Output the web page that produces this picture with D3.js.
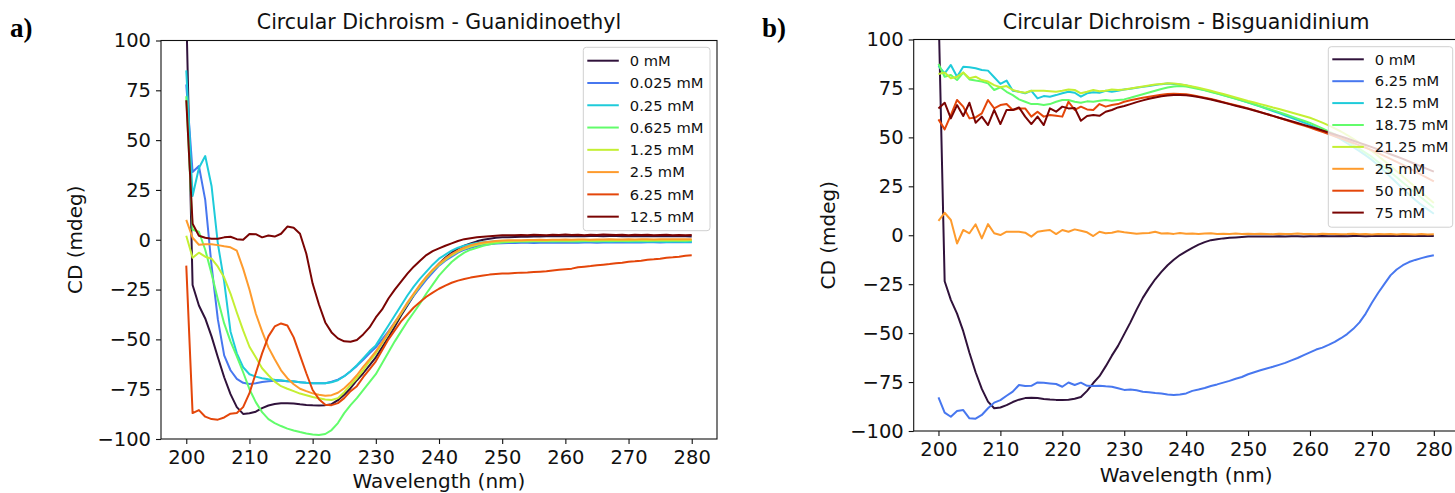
<!DOCTYPE html>
<html>
<head>
<meta charset="utf-8">
<script src="https://cdn.jsdelivr.net/npm/d3@7"></script>
<style>
    body { margin: 0; background: #fff; }
    svg { display: block; font-family: "DejaVu Sans", sans-serif; }
</style>
</head>
<body>
<div id="chart"></div>
<script>
// wavelength grid (nm), shared by every spectrum
const wavelength = [
    200, 201, 202, 203, 204, 205, 206, 207, 208, 209,
    210, 211, 212, 213, 214, 215, 216, 217, 218, 219,
    220, 221, 222, 223, 224, 225, 226, 227, 228, 229,
    230, 231, 232, 233, 234, 235, 236, 237, 238, 239,
    240, 241, 242, 243, 244, 245, 246, 247, 248, 249,
    250, 251, 252, 253, 254, 255, 256, 257, 258, 259,
    260, 261, 262, 263, 264, 265, 266, 267, 268, 269,
    270, 271, 272, 273, 274, 275, 276, 277, 278, 279,
    280
];

const xTicks = [200, 210, 220, 230, 240, 250, 260, 270, 280];
const yTicks = [100, 75, 50, 25, 0, -25, -50, -75, -100];

// a) Guanidinoethyl
const guaLabels = ["0 mM", "0.025 mM", "0.25 mM", "0.625 mM", "1.25 mM", "2.5 mM", "6.25 mM", "12.5 mM"];

const gua_0 = [
    115, -22.7, -33, -39.5, -48.5, -59, -69, -77.5, -84, -87.4,
    -87.1, -86.3, -84.5, -83.2, -82.4, -82.1, -82.1, -82.2, -82.6, -82.9,
    -83.1, -83.2, -83, -82.5, -80.5, -77.8, -74.5, -70.5, -67, -63,
    -59, -54, -49, -43.5, -38, -33, -28, -23.5, -19.5, -15.5,
    -12, -9, -6.5, -4.5, -3, -1.8, -0.8, 0, 0.5, 1,
    1.2, 1.3, 1.4, 1.5, 1.5, 1.6, 1.6, 1.7, 1.7, 1.8,
    1.8, 1.8, 1.9, 1.8, 1.9, 1.9, 1.8, 1.9, 1.9, 1.8,
    1.9, 1.8, 1.8, 1.9, 1.7, 1.8, 1.8, 1.7, 1.8, 1.7,
    1.6
];
const gua_0p025 = [
    78, 34, 37, 20, -13, -40, -58, -65.5, -69.8, -71.8,
    -72.4, -72, -71.4, -71, -70.8, -70.8, -71, -71.2, -71.5, -71.8,
    -72, -72, -72, -71.3, -70.2, -68.5, -66, -63.3, -60.3, -57,
    -54, -50, -46, -41.5, -37, -32.5, -28, -24, -20, -16.5,
    -13, -10.5, -8.5, -6.5, -5, -4, -3.2, -2.6, -2.2, -1.9,
    -1.7, -1.6, -1.6, -1.5, -1.5, -1.6, -1.5, -1.5, -1.4, -1.5,
    -1.5, -1.4, -1.5, -1.4, -1.4, -1.5, -1.4, -1.4, -1.3, -1.4,
    -1.4, -1.3, -1.4, -1.3, -1.3, -1.4, -1.3, -1.3, -1.2, -1.3,
    -1.2
];
const gua_0p25 = [
    85, 22, 36, 42, 27, -2, -21, -46, -57, -64,
    -67.5, -68.7, -69.5, -70, -70.3, -70.5, -71, -71, -71.5, -71.8,
    -72, -72, -72, -71.5, -70.5, -68.5, -66, -63, -59.5, -56,
    -53, -48, -43, -38, -33, -28, -23.5, -19.5, -16, -12.5,
    -9.5, -7.5, -5.5, -4, -3, -2.2, -1.6, -1.2, -1, -0.8,
    -0.7, -0.7, -0.8, -0.7, -0.8, -0.8, -0.7, -0.8, -0.9, -0.8,
    -0.8, -0.9, -0.8, -0.9, -0.9, -0.8, -0.9, -1, -0.9, -0.9,
    -1, -0.9, -1, -1, -0.9, -1, -1.1, -1, -1, -1.1,
    -1
];
const gua_0p625 = [
    72, 5, 4, -5, -17, -30, -42, -51, -58.5, -66.5,
    -75, -81.5, -86.5, -90, -92, -93.5, -94.8, -95.7, -96.5, -97.2,
    -97.7, -98, -97.5, -95.5, -92, -87, -83, -79.5, -75.5, -71.5,
    -67.5, -62, -56.5, -51, -46, -41, -36.5, -32, -27, -22.5,
    -18, -14.5, -11.2, -8.6, -6.5, -5, -4, -3, -2.3, -1.8,
    -1.4, -1.1, -1, -0.9, -0.9, -0.8, -0.8, -0.7, -0.8, -0.7,
    -0.7, -0.6, -0.7, -0.6, -0.6, -0.7, -0.6, -0.5, -0.6, -0.5,
    -0.6, -0.5, -0.5, -0.6, -0.5, -0.4, -0.5, -0.5, -0.4, -0.5,
    -0.4
];
const gua_1p25 = [
    2, -9, -6.5, -8.5, -9.5, -13.5, -19, -27, -36.5, -45.5,
    -53.7, -59, -64.5, -68, -71.2, -73.5, -74.8, -76, -77.2, -78,
    -78.9, -79.6, -80.2, -80.4, -79.5, -76.5, -73, -69.5, -65.5, -61,
    -57, -52, -47, -42, -37, -32, -27.5, -23, -19, -15.5,
    -12.5, -10, -7.8, -6, -4.5, -3.4, -2.5, -1.9, -1.4, -1,
    -0.8, -0.7, -0.6, -0.6, -0.5, -0.5, -0.4, -0.5, -0.4, -0.4,
    -0.3, -0.4, -0.3, -0.3, -0.4, -0.3, -0.2, -0.3, -0.3, -0.2,
    -0.3, -0.2, -0.2, -0.3, -0.2, -0.1, -0.2, -0.2, -0.1, -0.2,
    -0.1
];
const gua_2p5 = [
    10, 1, -2.5, -2.2, -2.3, -2.7, -3.3, -3.8, -5.5, -14.5,
    -25, -37, -46, -54, -60, -65.5, -69.5, -72.5, -74.8, -76,
    -77.1, -77.8, -78.3, -78, -76.8, -74.5, -71.5, -68, -63.8, -60,
    -56, -51.5, -46.5, -41.5, -36.5, -31.5, -27, -22.5, -18.5, -15,
    -12, -9.5, -7.2, -5.4, -4, -2.8, -2, -1.4, -1, -0.6,
    -0.4, -0.3, -0.2, -0.2, -0.1, -0.1, 0, -0.1, 0, 0,
    0.1, 0, 0.1, 0.1, 0, 0.1, 0.1, 0.2, 0.1, 0.1,
    0.2, 0.1, 0.2, 0.2, 0.1, 0.2, 0.2, 0.3, 0.2, 0.2,
    0.3
];
const gua_6p25 = [
    -13, -87, -85.5, -88.8, -90, -90.3, -89.2, -87.3, -87, -84,
    -77, -67, -57, -48.5, -43.5, -42, -43, -49, -58, -67,
    -75.4, -80, -82.8, -83, -82, -79.5, -76, -73.5, -69, -65,
    -61, -55.5, -50, -45.5, -41, -37.5, -34, -31.2, -28.6, -26.5,
    -24.6, -23, -21.6, -20.5, -19.7, -19, -18.4, -17.9, -17.5, -17.2,
    -17, -16.9, -16.7, -16.5, -16.4, -16.2, -16, -15.8, -15.4, -15.1,
    -14.8, -14.5, -13.8, -13.5, -13.2, -12.8, -12.5, -12.2, -11.8, -11.5,
    -11, -10.8, -10.5, -10, -9.8, -9.5, -9, -8.8, -8.5, -8,
    -7.8
];
const gua_12p5 = [
    70, 8, 2, 1, 0.5, 0.5, 1.2, 1.5, 0.3, 0,
    2.9, 2.8, 1.2, 2.1, 1.6, 3, 6.6, 6, 3, -7,
    -22, -32.5, -41.5, -46.5, -49.5, -51, -51.2, -50.3, -47.5, -44,
    -39, -35, -29.5, -25, -21, -17, -13.5, -10.5, -7.7, -5.7,
    -4.3, -3, -1.8, -0.6, 0.3, 0.8, 1.2, 1.5, 1.8, 2,
    2.2, 2.3, 2.2, 2.4, 2.3, 2.5, 2.4, 2.3, 2.5, 2.4,
    2.6, 2.4, 2.5, 2.3, 2.5, 2.4, 2.6, 2.5, 2.4, 2.5,
    2.3, 2.5, 2.4, 2.5, 2.3, 2.4, 2.5, 2.3, 2.4, 2.3,
    2.4
];

// b) Bisguanidinium
const bisLabels = ["0 mM", "6.25 mM", "12.5 mM", "18.75 mM", "21.25 mM", "25 mM", "50 mM", "75 mM"];

const bis_0 = [
    117, -23.5, -33, -40, -49, -60, -70, -78.5, -85, -88.4,
    -88, -86.8, -85.2, -84, -83.2, -83, -83.2, -83.6, -83.9, -84.1,
    -84.2, -84, -83.5, -82.6, -79.5, -75.5, -72, -67, -61.5, -56.5,
    -50.5, -44.5, -38, -32, -27, -22.5, -18.7, -15.3, -12.5, -10.1,
    -8.2, -6.4, -4.8, -3.5, -2.5, -2, -1.6, -1.3, -1.1, -0.9,
    -0.7, -0.7, -0.6, -0.6, -0.6, -0.5, -0.6, -0.5, -0.5, -0.6,
    -0.5, -0.5, -0.4, -0.5, -0.5, -0.4, -0.5, -0.4, -0.4, -0.5,
    -0.4, -0.4, -0.3, -0.4, -0.4, -0.3, -0.4, -0.3, -0.4, -0.3,
    -0.4
];
const bis_6p25 = [
    -82.8, -90.6, -92.7, -89.8, -89.3, -93.5, -93.7, -91.8, -88.4, -85.5,
    -84.2, -82, -79.9, -76.5, -77, -76.9, -75.2, -75.4, -75.7, -76,
    -77.4, -75.2, -76.5, -75.3, -76.9, -77, -76.9, -77.2, -77.4, -78.2,
    -79, -78.8, -79.2, -79.9, -80.2, -80.6, -80.9, -81.3, -81.6, -81.4,
    -80.8, -79.5, -78.8, -78, -77, -76.2, -75.3, -74.4, -73.3, -72.4,
    -71, -70, -69, -68.1, -67.2, -66.2, -65.2, -63.9, -62.7, -61.2,
    -59.8, -58.4, -57.4, -56, -54.5, -52.6, -50.5, -47.8, -44.5, -40,
    -34.5, -29.5, -25, -20.5, -17.5, -15.3, -13.7, -12.6, -11.7, -10.9,
    -10.2
];
const bis_12p5 = [
    86.5, 82.7, 87, 81, 86.1, 85.8, 85.3, 84.4, 84.1, 80.7,
    77.3, 79, 73.8, 73.3, 72.5, 73.8, 69.9, 71.1, 70.8, 71.6,
    72.5, 73.3, 72.8, 70.8, 72.5, 73, 72.8, 73.8, 73.3, 73.8,
    74.5, 74.8, 75.3, 75.8, 76.3, 76.8, 77.2, 77.5, 77.3, 77,
    76.5, 75.8, 75, 74.2, 73.4, 72.5, 71.6, 70.7, 69.8, 68.8,
    67.8, 66.8, 65.7, 64.6, 63.5, 62.4, 61.2, 60, 58.8, 57.6,
    56.4, 55, 53.6, 52.2, 50.7, 49, 47, 45, 43, 40.8,
    38.5, 35.8, 32.8, 29.8, 26.8, 23.8, 20.8, 18, 15.5, 13.2,
    11
];
const bis_18p75 = [
    87.5, 81, 81.9, 79.3, 83.1, 79.6, 79, 78.5, 77.6, 74.2,
    75.6, 73.3, 71.6, 69.4, 68.2, 67, 67, 66.5, 67, 68.2,
    69.1, 69.1, 68.2, 67.7, 68.4, 68.2, 68.7, 69.1, 68.7, 69.1,
    69.4, 70.2, 71.1, 72, 72.9, 73.8, 74.7, 75.5, 76, 76.2,
    76, 75.4, 74.7, 74, 73.2, 72.4, 71.5, 70.6, 69.7, 68.8,
    67.9, 66.9, 65.9, 64.9, 63.9, 62.9, 61.8, 60.7, 59.6, 58.5,
    57.4, 56, 54.6, 53.1, 51.6, 50, 48.1, 46.1, 44.1, 42.1,
    40, 37.4, 34.8, 32.2, 29.6, 27, 24.4, 21.8, 19.2, 16.6,
    14
];
const bis_21p25 = [
    82.4, 83.1, 80.2, 81, 83.1, 80.2, 81, 79.3, 78.5, 76.7,
    75.6, 76.2, 74.2, 73.3, 72.8, 73.8, 73.8, 73.8, 73.6, 73.3,
    73.8, 74.5, 74.2, 72.5, 73.3, 74.2, 73.6, 73.8, 74.5, 74.2,
    74.5, 75, 75.5, 76, 76.5, 77, 77.3, 77.6, 77.5, 77.1,
    76.6, 76, 75.3, 74.6, 73.8, 73, 72.2, 71.3, 70.4, 69.5,
    68.6, 67.8, 67, 66.2, 65.3, 64.5, 63.6, 62.7, 61.8, 60.9,
    60, 58.8, 57.5, 56.1, 54.6, 53, 51.2, 49.2, 47.2, 45.1,
    43, 40.5, 38, 35.4, 32.7, 30, 27.3, 24.6, 21.9, 19.2,
    16.5
];
const bis_25 = [
    7.4, 11.5, 7.8, -4.2, 2.7, 1, 5.6, -1.6, 5.7, 1,
    0.1, 1.8, 1.8, 1.8, 1.3, -0.7, 1.8, 2.3, 2.7, 0.6,
    2.7, 1.8, 3, 2.3, 1.5, -0.4, 1.8, 1, 1.3, 2,
    1.5, 1.2, 0.8, 1, 1.1, 1.8, 0.9, 1, 0.7, 1.1,
    0.8, 0.9, 0.6, 0.9, 1, 0.7, 0.8, 0.6, 0.9, 0.7,
    0.8, 0.6, 0.8, 0.7, 0.5, 0.8, 0.6, 0.7, 0.9, 0.6,
    0.7, 0.5, 0.8, 0.6, 0.7, 0.5, 0.6, 0.8, 0.5, 0.6,
    0.4, 0.7, 0.5, 0.6, 0.4, 0.6, 0.5, 0.4, 0.6, 0.4,
    0.5
];
const bis_50 = [
    59.2, 54.1, 61.4, 69.1, 65.7, 59.7, 60.2, 62.3, 69.1, 64.8,
    66.5, 67, 64, 64.8, 64.8, 60.6, 63.1, 60.6, 61.4, 61,
    60.6, 68.2, 64, 65.7, 64.3, 64, 67, 65.7, 66.5, 67,
    68.2, 69, 69.6, 70.2, 70.8, 71.3, 71.8, 72.2, 72.3, 72.2,
    72, 71.5, 70.9, 70.3, 69.6, 68.8, 68, 67.2, 66.4, 65.6,
    64.8, 63.9, 62.9, 61.9, 61, 60, 59, 58, 57, 56,
    55, 53.9, 52.8, 51.7, 50.6, 49.5, 48.3, 47.1, 45.9, 44.7,
    43.5, 42, 40.5, 39, 37.5, 36, 34.3, 32.6, 30.9, 29.2,
    27.5
];
const bis_75 = [
    64.8, 67.7, 59.7, 66.5, 60.9, 67.7, 57.5, 60.6, 56.3, 64,
    56.8, 64, 64, 65.3, 60.6, 56.8, 60.6, 56.3, 64.8, 63.1,
    65.7, 64.8, 65, 58.5, 60.9, 61.4, 61, 63.1, 64, 65.3,
    66, 67, 68, 68.9, 69.7, 70.4, 71, 71.4, 71.7, 71.7,
    71.5, 71.1, 70.6, 70, 69.3, 68.6, 67.8, 67, 66.2, 65.4,
    64.6, 63.7, 62.8, 61.9, 61, 60, 59.1, 58.2, 57.3, 56.4,
    55.5, 54.5, 53.5, 52.5, 51.5, 50.5, 49.4, 48.3, 47.2, 46.1,
    45, 43.8, 42.6, 41.4, 40.2, 39, 37.7, 36.4, 35.1, 33.8,
    32.5
];

// turbo colours, one per concentration
const seriesColors = ["#30123b", "#4777ef", "#1ecbda", "#62fc6b", "#c4ef33", "#fe9b2d", "#e4460a", "#7a0403"];


class CDPanel {

    constructor(svg, opts) {
        this.svg = svg;
        this.opts = opts;

        this.tickFontSize = 19.5;
        this.labelFontSize = 20;
        this.titleFontSize = 20.5;
        this.legendFontSize = 14.7;

        this.draw();
    }

    draw() {
        const o = this.opts;
        const svg = this.svg;

        // x and y scales
        const x = d3.scaleLinear().domain([196, 284]).range([o.left, o.right]);
        const y = d3.scaleLinear().domain([-100, 100]).range([o.bottom, o.top]);

        svg.append("clipPath")
            .attr("id", `clip-${o.id}`)
            .append("rect")
            .attr("x", o.left)
            .attr("y", o.top)
            .attr("width", o.right - o.left)
            .attr("height", o.bottom - o.top);

        const line = d3.line()
            .x((d, i) => x(wavelength[i]))
            .y(d => y(d));

        svg.append("g")
            .attr("clip-path", `url(#clip-${o.id})`)
            .selectAll("path")
            .data(o.series)
            .join("path")
            .attr("d", d => line(d))
            .attr("fill", "none")
            .attr("stroke", (d, i) => seriesColors[i])
            .attr("stroke-width", 2)
            .attr("stroke-linejoin", "round");

        // frame
        svg.append("rect")
            .attr("x", o.left)
            .attr("y", o.top)
            .attr("width", o.right - o.left)
            .attr("height", o.bottom - o.top)
            .attr("fill", "none")
            .attr("stroke", "#111")
            .attr("stroke-width", 1.1);

        // X axis
        const xAxis = svg.append("g")
            .attr("transform", `translate(0, ${o.bottom})`)
            .call(d3.axisBottom(x).tickValues(xTicks).tickSize(5).tickSizeOuter(0).tickPadding(6.5));
        xAxis.select(".domain").remove();

        // Y axis
        const yAxis = svg.append("g")
            .attr("transform", `translate(${o.left}, 0)`)
            .call(d3.axisLeft(y).tickValues(yTicks).tickSize(5).tickSizeOuter(0).tickPadding(5));
        yAxis.select(".domain").remove();

        [xAxis, yAxis].forEach(ax => {
            ax.attr("font-family", null).attr("font-size", null);
            ax.selectAll("line").attr("stroke", "#111").attr("stroke-width", 1.1);
            ax.selectAll("text")
                .attr("fill", "#111")
                .style("font-size", `${this.tickFontSize}px`);
        });

        // labels and title
        const cx = (o.left + o.right) / 2;

        svg.append("text")
            .attr("x", cx)
            .attr("y", o.xLabelY)
            .attr("text-anchor", "middle")
            .attr("fill", "#111")
            .style("font-size", `${this.labelFontSize}px`)
            .text("Wavelength (nm)");

        svg.append("text")
            .attr("transform", `translate(${o.left - 86}, ${(o.top + o.bottom) / 2}) rotate(-90)`)
            .attr("dy", "0.35em")
            .attr("text-anchor", "middle")
            .attr("fill", "#111")
            .style("font-size", `${this.labelFontSize}px`)
            .text("CD (mdeg)");

        svg.append("text")
            .attr("x", cx)
            .attr("y", 29)
            .attr("text-anchor", "middle")
            .attr("fill", "#111")
            .style("font-size", `${this.titleFontSize}px`)
            .text(o.title);

        svg.append("text")
            .attr("x", o.tagX)
            .attr("y", 37)
            .attr("fill", "#000")
            .style("font-family", "'Liberation Serif', serif")
            .style("font-weight", "bold")
            .style("font-size", "27px")
            .text(o.tag);

        this.drawLegend(o.labels, o.legend);
    }

    drawLegend(labels, lg) {
        const g = this.svg.append("g");

        g.append("rect")
            .attr("x", lg.x)
            .attr("y", lg.y)
            .attr("width", lg.w)
            .attr("height", lg.h)
            .attr("rx", 3)
            .attr("fill", "#fff")
            .attr("fill-opacity", 0.8)
            .attr("stroke", "#d0d0d0")
            .attr("stroke-width", 1);

        const rows = g.selectAll("g.entry")
            .data(labels)
            .join("g")
            .attr("class", "entry")
            .attr("transform", (d, i) => `translate(${lg.x}, ${lg.firstY + i * lg.step})`);

        rows.append("line")
            .attr("x1", 4)
            .attr("x2", 35.5)
            .attr("stroke", (d, i) => seriesColors[i])
            .attr("stroke-width", 2);

        rows.append("text")
            .attr("x", 46.5)
            .attr("dy", "0.36em")
            .attr("fill", "#111")
            .style("font-size", `${this.legendFontSize}px`)
            .text(d => d);
    }
}


const svg = d3.select("#chart")
    .append("svg")
    .attr("width", 1455)
    .attr("height", 493);

svg.append("rect").attr("width", 1455).attr("height", 493).attr("fill", "#fff");

new CDPanel(svg, {
    id: "a",
    tag: "a)",
    tagX: 10,
    title: "Circular Dichroism - Guanidinoethyl",
    left: 161, right: 717, top: 40.5, bottom: 439,
    xLabelY: 487.5,
    labels: guaLabels,
    series: [gua_0, gua_0p025, gua_0p25, gua_0p625, gua_1p25, gua_2p5, gua_6p25, gua_12p5],
    legend: { x: 583.3, y: 47.3, w: 126.7, h: 183.4, firstY: 60.7, step: 22.28 }
});

new CDPanel(svg, {
    id: "b",
    tag: "b)",
    tagX: 762,
    title: "Circular Dichroism - Bisguanidinium",
    left: 913.7, right: 1458.6, top: 39.5, bottom: 431,
    xLabelY: 481.7,
    labels: bisLabels,
    series: [bis_0, bis_6p25, bis_12p5, bis_18p75, bis_21p25, bis_25, bis_50, bis_75],
    legend: { x: 1328.3, y: 46.7, w: 124.4, h: 180.5, firstY: 59.3, step: 21.9 }
});
</script>
</body>
</html>
